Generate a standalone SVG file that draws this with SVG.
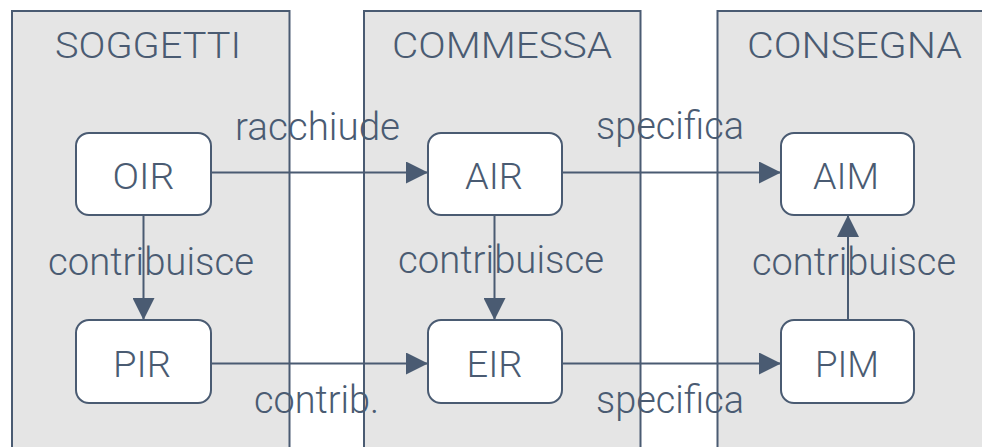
<svg xmlns="http://www.w3.org/2000/svg" width="982" height="447" viewBox="0 0 982 447">
<defs>
<style>
.panel{fill:#e5e5e5;stroke:#4a5b72;stroke-width:2}
.node{fill:#ffffff;stroke:#4a5b72;stroke-width:2}
.edge{fill:none;stroke:#4a5b72;stroke-width:2}
text{font-family:Roboto,"Liberation Sans",Arial,sans-serif;font-weight:300;fill:#4a5b72;font-size:37px}
.title{font-size:36px}
.nl{font-size:36px;text-anchor:middle}
.el{font-size:38px}
</style>
<marker id="ah" viewBox="0 0 22 22" refX="22" refY="11" markerWidth="22" markerHeight="22" markerUnits="userSpaceOnUse" orient="auto">
<path d="M0,0 L22,11 L0,22 Z" fill="#4a5b72"/>
</marker>
</defs>
<rect width="982" height="447" fill="#ffffff"/>
<g id="panel-soggetti">
<rect class="panel" x="12" y="11" width="277.5" height="450"/>
<text class="title" x="55" y="58" textLength="186" lengthAdjust="spacingAndGlyphs">SOGGETTI</text>
</g>
<g id="panel-commessa">
<rect class="panel" x="364" y="11" width="276.5" height="450"/>
<text class="title" x="392" y="58" textLength="220" lengthAdjust="spacingAndGlyphs">COMMESSA</text>
</g>
<g id="panel-consegna">
<rect class="panel" x="717.5" y="11" width="290" height="450"/>
<text class="title" x="747" y="58" textLength="215" lengthAdjust="spacingAndGlyphs">CONSEGNA</text>
</g>
<g id="connectors">
<line class="edge" x1="211" y1="172.5" x2="428" y2="172.5" marker-end="url(#ah)"/>
<line class="edge" x1="562" y1="172.5" x2="781" y2="172.5" marker-end="url(#ah)"/>
<line class="edge" x1="143.5" y1="215" x2="143.5" y2="320" marker-end="url(#ah)"/>
<line class="edge" x1="494.5" y1="215" x2="494.5" y2="320" marker-end="url(#ah)"/>
<line class="edge" x1="211" y1="363.5" x2="428" y2="363.5" marker-end="url(#ah)"/>
<line class="edge" x1="562" y1="363.5" x2="781" y2="363.5" marker-end="url(#ah)"/>
<line class="edge" x1="848" y1="320" x2="848" y2="215" marker-end="url(#ah)"/>
<text class="el" x="235" y="140" textLength="165" lengthAdjust="spacingAndGlyphs">racchiude</text>
<text class="el" x="596" y="139" textLength="148" lengthAdjust="spacingAndGlyphs">specifica</text>
<text class="el" x="48" y="275" textLength="206" lengthAdjust="spacingAndGlyphs">contribuisce</text>
<text class="el" x="398" y="273" textLength="206" lengthAdjust="spacingAndGlyphs">contribuisce</text>
<text class="el" x="752" y="275" textLength="204" lengthAdjust="spacingAndGlyphs">contribuisce</text>
<text class="el" x="254" y="413" textLength="125" lengthAdjust="spacingAndGlyphs">contrib.</text>
<text class="el" x="596" y="413" textLength="148" lengthAdjust="spacingAndGlyphs">specifica</text>
</g>
<g id="node-oir">
<rect class="node" x="76" y="133" width="135" height="82" rx="13"/>
<text class="nl" x="143.5" y="189" textLength="62" lengthAdjust="spacingAndGlyphs">OIR</text>
</g>
<g id="node-air">
<rect class="node" x="428" y="133" width="134" height="82" rx="13"/>
<text class="nl" x="494" y="189" textLength="58" lengthAdjust="spacingAndGlyphs">AIR</text>
</g>
<g id="node-aim">
<rect class="node" x="781" y="133" width="133" height="82" rx="13"/>
<text class="nl" x="846" y="189" textLength="66" lengthAdjust="spacingAndGlyphs">AIM</text>
</g>
<g id="node-pir">
<rect class="node" x="76" y="320" width="135" height="83" rx="13"/>
<text class="nl" x="142" y="377" textLength="58" lengthAdjust="spacingAndGlyphs">PIR</text>
</g>
<g id="node-eir">
<rect class="node" x="428" y="320" width="134" height="83" rx="13"/>
<text class="nl" x="494.5" y="377" textLength="56" lengthAdjust="spacingAndGlyphs">EIR</text>
</g>
<g id="node-pim">
<rect class="node" x="781" y="320" width="133" height="83" rx="13"/>
<text class="nl" x="847" y="377" textLength="64" lengthAdjust="spacingAndGlyphs">PIM</text>
</g>
</svg>
